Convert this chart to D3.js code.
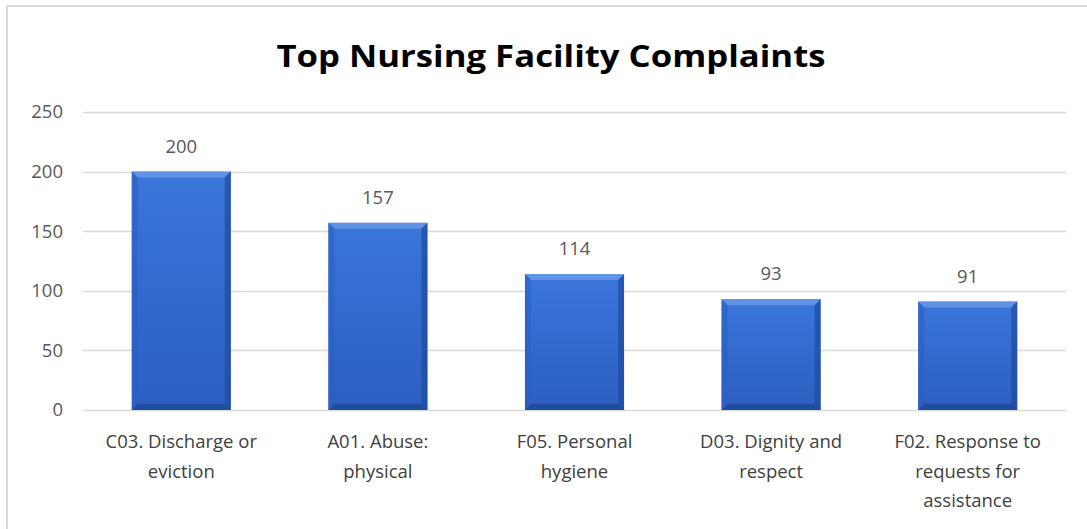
<!DOCTYPE html>
<html>
<head>
<meta charset="utf-8">
<script src="https://cdn.jsdelivr.net/npm/d3@7"></script>
<style>
  body { margin: 0; background: #fff; }
  svg text { font-family: "Open Sans", Lato, "Noto Sans", sans-serif; }
</style>
</head>
<body>
<div id="chart"></div>
<script>
// DATA
const categories = [
  'C03. Discharge or\neviction',
  'A01. Abuse:\nphysical',
  'F05. Personal\nhygiene',
  'D03. Dignity and\nrespect',
  'F02. Response to\nrequests for\nassistance',
]
const complaints = [200, 157, 114, 93, 91]
const yTicks = [0, 50, 100, 150, 200, 250]
const title = 'Top Nursing Facility Complaints'

// SIZES
const W = 1087
const H = 529
const plot = { left: 83, right: 1066, top: 112, bottom: 410 }

const svg = d3.select('#chart').append('svg')
  .attr('width', W)
  .attr('height', H)

// frame
svg.append('rect')
  .attr('x', 7).attr('y', 6)
  .attr('width', W + 10).attr('height', H + 10)
  .attr('fill', '#fff')
  .attr('stroke', '#d9d9d9')
  .attr('stroke-width', 2)

// gradient for the bevelled bars
const defs = svg.append('defs')
const grad = defs.append('linearGradient')
  .attr('id', 'barFill').attr('x1', 0).attr('y1', 0).attr('x2', 0).attr('y2', 1)
grad.append('stop').attr('offset', '0%').attr('stop-color', '#3a76db')
grad.append('stop').attr('offset', '100%').attr('stop-color', '#2c5ec0')

// SCALES
const x = d3.scaleBand()
  .domain(categories)
  .range([plot.left, plot.right])
  .paddingInner(0.496)
  .paddingOuter(0.248)

const y = d3.scaleLinear()
  .domain([0, 250])
  .range([plot.bottom, plot.top])

// TITLE
svg.append('text')
  .attr('x', 551)
  .attr('y', 67)
  .attr('text-anchor', 'middle')
  .style('font-size', '31px')
  .style('font-weight', 'bold')
  .attr('textLength', 549)
  .attr('lengthAdjust', 'spacingAndGlyphs')
  .attr('fill', '#000')
  .text(title)

// GRIDLINES
svg.append('g')
  .selectAll('line')
  .data(yTicks)
  .join('line')
  .attr('x1', plot.left)
  .attr('x2', plot.right)
  .attr('y1', d => Math.round(y(d)) + 0.5)
  .attr('y2', d => Math.round(y(d)) + 0.5)
  .attr('stroke', '#d9d9d9')
  .attr('stroke-width', 1.5)

// Y AXIS
const yAxis = d3.axisLeft(y)
  .tickValues(yTicks)
  .tickSize(0)
  .tickPadding(0)
svg.append('g')
  .attr('transform', 'translate(63,0)')
  .call(yAxis)
  .call(g => g.select('.domain').remove())
  .selectAll('text')
  .attr('fill', '#595959')
  .style('font-size', '18.5px')
  .style('font-family', '"Open Sans", Lato, sans-serif')

// BARS
const bw = x.bandwidth()
const bev = 6
const bar = svg.append('g')
  .selectAll('g')
  .data(complaints)
  .join('g')
  .attr('transform', (d, i) => `translate(${x(categories[i])},0)`)

bar.append('rect')
  .attr('x', 0)
  .attr('y', d => y(d))
  .attr('width', bw)
  .attr('height', d => y(0) - y(d))
  .attr('fill', 'url(#barFill)')

// top bevel (light)
bar.append('path')
  .attr('d', d => `M0,${y(d)}L${bw},${y(d)}L${bw - bev},${y(d) + bev}L${bev},${y(d) + bev}Z`)
  .attr('fill', '#6e9eea').attr('opacity', 0.75)
// left bevel
bar.append('path')
  .attr('d', d => `M0,${y(d)}L${bev},${y(d) + bev}L${bev},${y(0) - bev}L0,${y(0)}Z`)
  .attr('fill', '#2c5fc2').attr('opacity', 0.6)
// right bevel
bar.append('path')
  .attr('d', d => `M${bw},${y(d)}L${bw - bev},${y(d) + bev}L${bw - bev},${y(0) - bev}L${bw},${y(0)}Z`)
  .attr('fill', '#1f4a9e').attr('opacity', 0.7)
// bottom bevel
bar.append('path')
  .attr('d', d => `M0,${y(0)}L${bev},${y(0) - bev}L${bw - bev},${y(0) - bev}L${bw},${y(0)}Z`)
  .attr('fill', '#1d4796').attr('opacity', 0.8)

// VALUE LABELS
bar.append('text')
  .attr('x', bw / 2)
  .attr('y', d => y(d) - 19)
  .attr('text-anchor', 'middle')
  .attr('fill', '#595959')
  .style('font-size', '18.5px')
  .text(d => d)

// CATEGORY LABELS
const cat = svg.append('g')
  .selectAll('text')
  .data(categories)
  .join('text')
  .attr('x', d => x(d) + bw / 2)
  .attr('y', 448)
  .attr('text-anchor', 'middle')
  .attr('fill', '#404040')
  .style('font-size', '18.5px')

cat.selectAll('tspan')
  .data(d => d.split('\n'))
  .join('tspan')
  .attr('x', function () { return d3.select(this.parentNode).attr('x') })
  .attr('dy', (d, i) => i === 0 ? 0 : 29.5)
  .text(d => d)
</script>
</body>
</html>
